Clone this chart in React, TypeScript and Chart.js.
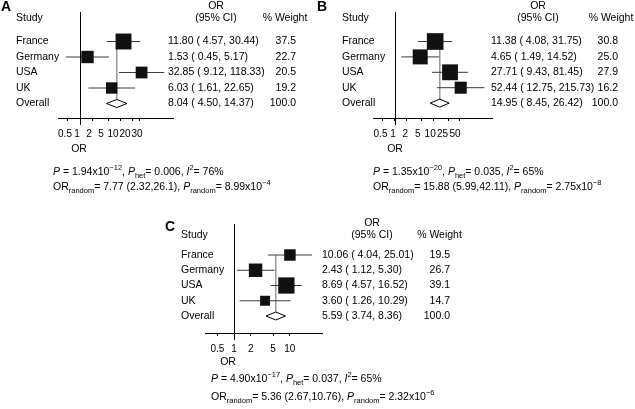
import React, { useEffect, useRef } from "react";
import { Chart, registerables } from "chart.js";
Chart.register(...registerables);

const STUDIES = ["France", "Germany", "USA", "UK"];
const OVERALL_LABEL = "Overall";

// Panel A
const OR_A = [11.8, 1.53, 32.85, 6.03];
const LO_A = [4.57, 0.45, 9.12, 1.61];
const HI_A = [30.44, 5.17, 118.33, 22.65];
const W_A = [37.5, 22.7, 20.5, 19.2];
const OVERALL_A = [8.04, 4.5, 14.37];
const TICKS_A = [0.5, 1, 2, 5, 10, 20, 30];
const STATS_A = ["1.94x10", "\u221212", "0.006", "76%", "7.77 (2.32,26.1)", "8.99x10", "\u22124"];

// Panel B
const OR_B = [11.38, 4.65, 27.71, 52.44];
const LO_B = [4.08, 1.49, 9.43, 12.75];
const HI_B = [31.75, 14.52, 81.45, 215.73];
const W_B = [30.8, 25.0, 27.9, 16.2];
const OVERALL_B = [14.95, 8.45, 26.42];
const TICKS_B = [0.5, 1, 2, 5, 10, 25, 50];
const STATS_B = ["1.35x10", "\u221220", "0.035", "65%", "15.88 (5.99,42.11)", "2.75x10", "\u22128"];

// Panel C
const OR_C = [10.06, 2.43, 8.69, 3.6];
const LO_C = [4.04, 1.12, 4.57, 1.26];
const HI_C = [25.01, 5.3, 16.52, 10.29];
const W_C = [19.5, 26.7, 39.1, 14.7];
const OVERALL_C = [5.59, 3.74, 8.36];
const TICKS_C = [0.5, 1, 2, 5, 10];
const STATS_C = ["4.90x10", "\u221217", "0.037", "65%", "5.36 (2.67,10.76)", "2.32x10", "\u22126"];

const FAM = '"Liberation Sans", Arial, Helvetica, sans-serif';
const FS = 10.5;
const SUBFS = 7.5;
const DH = 0.26; // diamond half-height in row units

const PANELS = [
  {
    letter: "A", or: OR_A, lo: LO_A, hi: HI_A, w: W_A, ov: OVERALL_A, ticks: TICKS_A, stats: STATS_A,
    left: 0, top: 0, W: 315, H: 205,
    L: 58, R: 173, P1: 80, D: 40.6, chartTop: 12, axisY: 118, row1: 41.5, rowH: 15.5, k: 2.6,
    labelSpan: [65, 137],
    nameX: 16, orX: 168, orHeadX: 216, orHeadY: 6, headY: 18, wX: 296, wHeadX: 285,
    statsX: 53, statsY: [172, 187], orLabelX: 79, orLabelY: 149, letterX: 1, letterY: 7.5,
  },
  {
    letter: "B", or: OR_B, lo: LO_B, hi: HI_B, w: W_B, ov: OVERALL_B, ticks: TICKS_B, stats: STATS_B,
    left: 315, top: 0, W: 320, H: 205,
    L: 58, R: 177, P1: 79.5, D: 38.5, chartTop: 12, axisY: 118, row1: 41.5, rowH: 15.4, k: 3.0,
    labelSpan: [65.5, 140],
    nameX: 27, orX: 176, orHeadX: 223, orHeadY: 6, headY: 18, wX: 303, wHeadX: 296,
    statsX: 58, statsY: [172, 187], orLabelX: 80, orLabelY: 149, letterX: 2, letterY: 7.5,
  },
  {
    letter: "C", or: OR_C, lo: LO_C, hi: HI_C, w: W_C, ov: OVERALL_C, ticks: TICKS_C, stats: STATS_C,
    left: 150, top: 205, W: 340, H: 204,
    L: 55, R: 172, P1: 82, D: 57, chartTop: 19, axisY: 128, row1: 50, rowH: 15.25, k: 2.6,
    labelSpan: null,
    nameX: 31, orX: 172, orHeadX: 222, orHeadY: 18, headY: 30, wX: 300, wHeadX: 289.5,
    statsX: 61, statsY: [174, 192], orLabelX: 78, orLabelY: 157, letterX: 15, letterY: 22,
  },
];

type Seg = { t: string; i?: boolean; p?: "sub" | "sup" };

function drawRich(ctx: CanvasRenderingContext2D, x: number, y: number, segs: Seg[]) {
  let cx = x;
  ctx.textAlign = "left";
  ctx.textBaseline = "middle";
  for (const s of segs) {
    const size = s.p ? SUBFS : FS;
    ctx.font = `${s.i ? "italic " : ""}${size}px ${FAM}`;
    const dy = s.p === "sub" ? 3.5 : s.p === "sup" ? -4 : 0;
    ctx.fillText(s.t, cx, y + dy);
    cx += ctx.measureText(s.t).width;
  }
}

function fmtCI(o: number, l: number, h: number) {
  return `${o.toFixed(2)} ( ${l.toFixed(2)}, ${h.toFixed(2)})`;
}

function Panel({ cfg }: { cfg: any }) {
  const ref = useRef<HTMLCanvasElement>(null);
  useEffect(() => {
    const canvas = ref.current!;
    const n = STUDIES.length;
    const ovRow = n + 1;
    const xmin = Math.pow(10, (cfg.L - cfg.P1) / cfg.D);
    const xmax = Math.pow(10, (cfg.R - cfg.P1) / cfg.D);
    const ymin = 1 - (cfg.row1 - cfg.chartTop) / cfg.rowH;
    const ymax = 1 + (cfg.axisY - cfg.row1) / cfg.rowH;
    const TL = 3;
    const tickFont = { family: FAM, size: 10 };

    const datasets: any[] = [];
    for (let i = 0; i < n; i++) {
      datasets.push({
        data: [{ x: cfg.lo[i], y: i + 1 }, { x: cfg.hi[i], y: i + 1 }],
        showLine: true, borderColor: "#3a3a3a", borderWidth: 1, pointRadius: 0, order: 3,
      });
    }
    datasets.push({
      data: [{ x: cfg.ov[0], y: 1 }, { x: cfg.ov[0], y: ovRow - DH }],
      showLine: true, borderColor: "#9a9a9a", borderWidth: 1, pointRadius: 0, order: 4,
    });
    datasets.push({
      data: cfg.or.map((v: number, i: number) => ({ x: v, y: i + 1 })),
      showLine: false, pointStyle: "rect",
      pointRadius: cfg.w.map((wt: number) => (cfg.k * Math.sqrt(wt)) / Math.SQRT2),
      backgroundColor: "#111", borderColor: "#111", borderWidth: 0, order: 1,
    });
    datasets.push({
      data: [
        { x: cfg.ov[1], y: ovRow },
        { x: cfg.ov[0], y: ovRow - DH },
        { x: cfg.ov[2], y: ovRow },
        { x: cfg.ov[0], y: ovRow + DH },
        { x: cfg.ov[1], y: ovRow },
      ],
      showLine: true, borderColor: "#000", borderWidth: 1, pointRadius: 0, tension: 0,
      backgroundColor: "#fff", fill: false, order: 2,
    });

    const spaced = !!cfg.labelSpan;
    const scales: any = {
      x: {
        type: "logarithmic",
        min: xmin,
        max: xmax,
        weight: 0,
        afterBuildTicks: (sc: any) => {
          sc.ticks = cfg.ticks.map((v: number) => ({ value: v }));
        },
        afterFit: (sc: any) => {
          sc.height = spaced ? TL : cfg.H - cfg.axisY;
        },
        grid: { display: true, drawOnChartArea: false, drawTicks: true, tickLength: TL, color: "#000", tickColor: "#000" },
        border: { display: true, color: "#000", width: 1 },
        ticks: {
          display: !spaced,
          autoSkip: false, maxRotation: 0, minRotation: 0, padding: 7, color: "#000",
          font: tickFont,
          callback: (v: any) => String(v),
        },
      },
      y: { type: "linear", display: false, reverse: true, min: ymin, max: ymax },
    };
    if (spaced) {
      // label axis: tick labels of the OR axis, spread evenly as in the original figure
      const m = cfg.ticks.length;
      const step = (cfg.labelSpan[1] - cfg.labelSpan[0]) / (m - 1);
      scales.xl = {
        type: "linear",
        position: "bottom",
        weight: 1,
        min: -(cfg.labelSpan[0] - cfg.L) / step,
        max: m - 1 + (cfg.R - cfg.labelSpan[1]) / step,
        afterBuildTicks: (sc: any) => {
          sc.ticks = cfg.ticks.map((_: number, i: number) => ({ value: i }));
        },
        afterFit: (sc: any) => {
          sc.height = cfg.H - cfg.axisY - TL;
        },
        grid: { display: false, drawTicks: false, drawOnChartArea: false },
        border: { display: false },
        ticks: {
          autoSkip: false, maxRotation: 0, minRotation: 0, padding: 7, color: "#000",
          font: tickFont,
          callback: (v: any) => String(cfg.ticks[Math.round(v)]),
        },
      };
    }

    const textPlugin = {
      id: "forestText",
      afterDraw(chart: any) {
        const ctx: CanvasRenderingContext2D = chart.ctx;
        const ys = chart.scales.y;
        const xs = chart.scales.x;
        ctx.save();
        const x1 = Math.round(xs.getPixelForValue(1)) + 0.5;
        ctx.strokeStyle = "#000";
        ctx.lineWidth = 1;
        ctx.beginPath();
        ctx.moveTo(x1, chart.chartArea.top);
        ctx.lineTo(x1, chart.chartArea.bottom + 7);
        ctx.stroke();

        ctx.fillStyle = "#000";
        ctx.font = `bold 14px ${FAM}`;
        ctx.textAlign = "left";
        ctx.textBaseline = "middle";
        ctx.fillText(cfg.letter, cfg.letterX, cfg.letterY);

        ctx.font = `${FS}px ${FAM}`;
        ctx.textAlign = "left";
        ctx.fillText("Study", cfg.nameX, cfg.headY);
        ctx.textAlign = "center";
        ctx.fillText("OR", cfg.orHeadX, cfg.orHeadY);
        ctx.fillText("(95% CI)", cfg.orHeadX, cfg.headY);
        ctx.fillText("% Weight", cfg.wHeadX, cfg.headY);

        const rows = [...STUDIES, OVERALL_LABEL];
        const ors = [...cfg.or, cfg.ov[0]];
        const los = [...cfg.lo, cfg.ov[1]];
        const his = [...cfg.hi, cfg.ov[2]];
        const ws = [...cfg.w, 100];
        rows.forEach((name, i) => {
          const y = ys.getPixelForValue(i + 1);
          ctx.textAlign = "left";
          ctx.fillText(name, cfg.nameX, y);
          ctx.fillText(fmtCI(ors[i], los[i], his[i]), cfg.orX, y);
          ctx.textAlign = "right";
          ctx.fillText(ws[i].toFixed(1), cfg.wX, y);
        });

        ctx.textAlign = "center";
        ctx.fillText("OR", cfg.orLabelX, cfg.orLabelY);

        const s = cfg.stats;
        drawRich(ctx, cfg.statsX, cfg.statsY[0], [
          { t: "P", i: true }, { t: " = " + s[0] }, { t: s[1], p: "sup" }, { t: ", " },
          { t: "P", i: true }, { t: "het", p: "sub" }, { t: "= " + s[2] + ", " },
          { t: "I", i: true }, { t: "2", p: "sup" }, { t: "= " + s[3] },
        ]);
        drawRich(ctx, cfg.statsX, cfg.statsY[1], [
          { t: "OR" }, { t: "random", p: "sub" }, { t: "= " + s[4] + ", " },
          { t: "P", i: true }, { t: "random", p: "sub" }, { t: "= " + s[5] }, { t: s[6], p: "sup" },
        ]);
        ctx.restore();
      },
    };

    const chart = new Chart(canvas, {
      type: "scatter",
      data: { datasets },
      options: {
        animation: false,
        responsive: false,
        devicePixelRatio: 1,
        events: [],
        layout: { padding: { left: cfg.L, right: cfg.W - cfg.R, top: cfg.chartTop, bottom: 0 } },
        plugins: { legend: { display: false }, tooltip: { enabled: false } },
        scales,
      } as any,
      plugins: [textPlugin],
    });
    return () => chart.destroy();
  }, [cfg]);
  return (
    <canvas
      ref={ref}
      width={cfg.W}
      height={cfg.H}
      style={{ position: "absolute", left: cfg.left, top: cfg.top, width: cfg.W, height: cfg.H, display: "block" }}
    />
  );
}

export default function App() {
  return (
    <div style={{ position: "fixed", left: 0, top: 0, width: 635, height: 409, background: "#fff", overflow: "hidden" }}>
      {PANELS.map((p) => (
        <Panel key={p.letter} cfg={p} />
      ))}
    </div>
  );
}
